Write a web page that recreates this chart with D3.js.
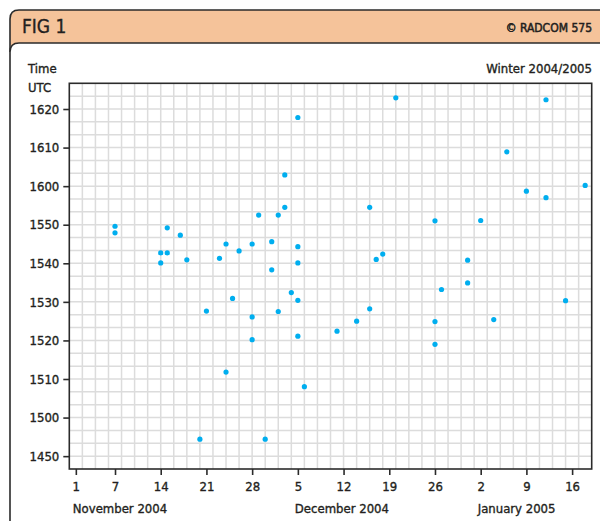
<!DOCTYPE html>
<html>
<head>
<meta charset="utf-8">
<script src="https://cdn.jsdelivr.net/npm/d3@7"></script>
<style>
  html, body { margin: 0; padding: 0; background: #fff; }
  svg { display: block; }
  text { font-family: "Liberation Sans Narrow", "DejaVu Sans Condensed", "Arial Narrow", sans-serif; fill: #231f20; stroke: #231f20; stroke-width: 0.35px; }
</style>
</head>
<body>
<svg id="chart" width="600" height="521"></svg>
<script>
// Observation dates (UTC) and the time of each observation, written as HHMM (fractional minutes allowed)
const obsDates = [
  "2004-11-07", "2004-11-07", "2004-11-14", "2004-11-14", "2004-11-15", "2004-11-15",
  "2004-11-17", "2004-11-18", "2004-11-20", "2004-11-21", "2004-11-23", "2004-11-24",
  "2004-11-24", "2004-11-25", "2004-11-26", "2004-11-28", "2004-11-28", "2004-11-28",
  "2004-11-29", "2004-11-30", "2004-12-01", "2004-12-01", "2004-12-02", "2004-12-02",
  "2004-12-03", "2004-12-03", "2004-12-04", "2004-12-05", "2004-12-05", "2004-12-05",
  "2004-12-05", "2004-12-05", "2004-12-06", "2004-12-11", "2004-12-14", "2004-12-16",
  "2004-12-16", "2004-12-17", "2004-12-18", "2004-12-20", "2004-12-26", "2004-12-26",
  "2004-12-26", "2004-12-27", "2004-12-31", "2004-12-31", "2005-01-02", "2005-01-04",
  "2005-01-06", "2005-01-09", "2005-01-12", "2005-01-12", "2005-01-15", "2005-01-18"
];
const obsTimes = [
  1549.6, 1547.9, 1542.7, 1540.1, 1549.2, 1542.7,
  1547.3, 1540.9, 1454.4, 1527.6, 1541.3, 1545.0,
  1511.8, 1530.9, 1543.2, 1545.0, 1526.1, 1520.2,
  1552.5, 1454.4, 1545.6, 1538.3, 1552.5, 1527.5,
  1602.9, 1554.5, 1532.4, 1617.8, 1544.3, 1540.1,
  1530.4, 1521.1, 1508.0, 1522.4, 1525.0, 1554.5,
  1528.2, 1541.0, 1542.4, 1622.9, 1551.0, 1524.9,
  1519.0, 1533.2, 1540.8, 1534.9, 1551.1, 1525.4,
  1608.9, 1558.7, 1622.4, 1557.0, 1530.3, 1600.2
];

// Axis ticks
const dateTicks = [
  "2004-11-01", "2004-11-07", "2004-11-14", "2004-11-21", "2004-11-28", "2004-12-05",
  "2004-12-12", "2004-12-19", "2004-12-26", "2005-01-02", "2005-01-09", "2005-01-16"
];
const monthLabels = ["November 2004", "December 2004", "January 2005"];
const monthAnchors = ["2004-11-01", "2004-12-05", "2005-01-02"];
const timeTicks = [1450, 1500, 1510, 1520, 1530, 1540, 1550, 1600, 1610, 1620];

const title = "FIG 1";
const credit = "\u00A9 RADCOM 575";
const yTitle = ["Time", "UTC"];
const subtitle = "Winter 2004/2005";

// HHMM -> minutes after midnight, and back
const toMin = v => Math.floor(v / 100) * 60 + (v % 100);
const toHHMM = m => String(Math.floor(m / 60) * 100 + Math.round(m % 60));
const parse = d3.utcParse("%Y-%m-%d");

const svg = d3.select("#chart");
const ink = "#2b2b2b";

// ---- frame: orange header band with a white panel below ----
const F = { x: 10, y: 10, w: 640, h: 560, r: 9, head: 43 };
svg.append("rect").attr("x", F.x).attr("y", F.y).attr("width", F.w).attr("height", F.head - F.y + F.r)
  .attr("rx", F.r).attr("fill", "#f5c39a");
svg.append("path")
  .attr("d", `M${F.x},${F.head + F.r} L${F.x},${F.y + F.r} Q${F.x},${F.y} ${F.x + F.r},${F.y} L${F.x + F.w},${F.y}`)
  .attr("fill", "none").attr("stroke", ink).attr("stroke-width", 1.6);
svg.append("path")
  .attr("d", `M${F.x},${F.y + F.h} L${F.x},${F.head + F.r} Q${F.x},${F.head} ${F.x + F.r},${F.head} L${F.x + F.w},${F.head} L${F.x + F.w},${F.y + F.h} Z`)
  .attr("fill", "#fff").attr("stroke", ink).attr("stroke-width", 1.6);

svg.append("text").attr("x", 22).attr("y", 33).attr("font-size", 19).text(title);
svg.append("text").attr("x", 592).attr("y", 32).attr("text-anchor", "end")
  .attr("font-size", 12).style("stroke-width", "0.5px").text(credit);

// ---- plot area ----
const P = { left: 69.3, right: 591.7, top: 83.3, bottom: 469 };
const x = d3.scaleUtc()
  .domain([parse("2004-10-31"), parse("2005-01-19")])
  .range([P.left, P.right]);
const y = d3.scaleLinear()
  .domain([toMin(1450) - 10 / 3, toMin(1620) + 20 / 3])
  .range([P.bottom, P.top]);

const grid = svg.append("g").attr("stroke", "#dcdcdc").attr("stroke-width", 1.5);
const xd = x.domain();
d3.range(2, 80, 2).map(k => d3.utcDay.offset(xd[0], k)).forEach(d => {
  grid.append("line").attr("x1", x(d)).attr("x2", x(d)).attr("y1", P.top).attr("y2", P.bottom);
});
d3.range(1, 30).map(k => y.domain()[0] + k * 10 / 3).forEach(m => {
  grid.append("line").attr("x1", P.left).attr("x2", P.right).attr("y1", y(m)).attr("y2", y(m));
});

svg.append("rect").attr("x", P.left).attr("y", P.top)
  .attr("width", P.right - P.left).attr("height", P.bottom - P.top)
  .attr("fill", "none").attr("stroke", ink).attr("stroke-width", 1.6);

// y axis
const yAxis = d3.axisLeft(y)
  .tickValues(timeTicks.map(toMin))
  .tickFormat(toHHMM)
  .tickSize(6).tickPadding(4);
const gy = svg.append("g").attr("transform", `translate(${P.left},0)`).call(yAxis);
gy.select(".domain").remove();
gy.selectAll(".tick line").attr("stroke", ink).attr("stroke-width", 1.6);
gy.selectAll(".tick text").attr("font-size", 13).attr("font-family", null).attr("fill", "#231f20");

// x axis
const xAxis = d3.axisBottom(x)
  .tickValues(dateTicks.map(parse))
  .tickFormat(d3.utcFormat("%-d"))
  .tickSize(6).tickPadding(7);
const gx = svg.append("g").attr("transform", `translate(0,${P.bottom})`).call(xAxis);
gx.select(".domain").remove();
gx.selectAll(".tick line").attr("stroke", ink).attr("stroke-width", 1.6);
gx.selectAll(".tick text").attr("font-size", 13).attr("font-family", null).attr("fill", "#231f20");

monthLabels.forEach((t, i) => {
  svg.append("text").attr("x", x(parse(monthAnchors[i])) - 3).attr("y", 513)
    .attr("font-size", 13).text(t);
});

// titles
yTitle.forEach((t, i) => {
  svg.append("text").attr("x", 28).attr("y", 73 + i * 19).attr("font-size", 13).text(t);
});
svg.append("text").attr("x", 592).attr("y", 73).attr("text-anchor", "end")
  .attr("font-size", 13).text(subtitle);

// observations
svg.append("g").selectAll("circle")
  .data(obsDates.map((d, i) => ({ date: parse(d), t: toMin(obsTimes[i]) })))
  .join("circle")
  .attr("cx", d => x(d.date))
  .attr("cy", d => y(d.t))
  .attr("r", 2.6)
  .attr("fill", "#00aeef");
</script>
</body>
</html>
